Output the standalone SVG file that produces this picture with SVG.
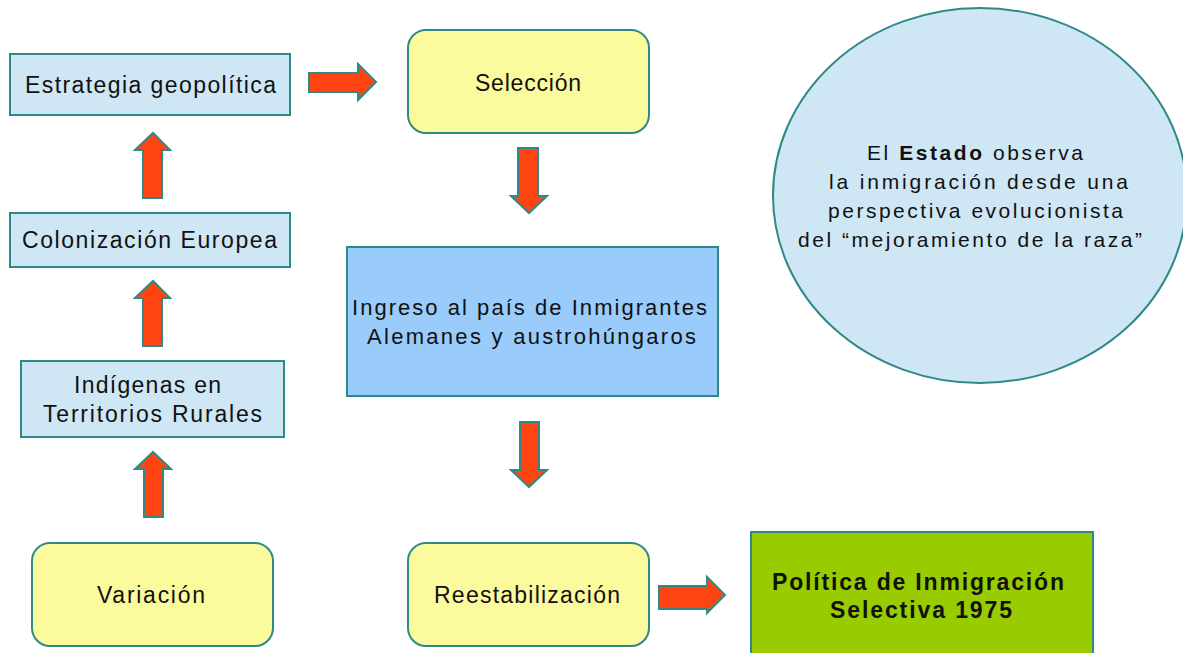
<svg xmlns="http://www.w3.org/2000/svg" width="1183" height="653" viewBox="0 0 1183 653">
<style>
.bg{fill:#ffffff}
.lb{fill:#cfe6f4;stroke:#2e8a86;stroke-width:2}
.yl{fill:#fbfa9c;stroke:#2e8a86;stroke-width:2}
.bl{fill:#99cbfb;stroke:#2e8a86;stroke-width:2}
.gr{fill:#99cc00;stroke:#2e8a86;stroke-width:2}
.ar{fill:#ff4411;stroke:#2e8a86;stroke-width:2;stroke-linejoin:miter}
text{font-family:"Liberation Sans",Arial,sans-serif;fill:#111111}
.t23{font-size:23px}
.t22{font-size:22px}
.t21{font-size:21px}
.b{font-weight:bold}
</style>
<rect class="bg" x="0" y="0" width="1183" height="653"/>

<g id="estado">
<ellipse class="lb" cx="980" cy="195.5" rx="207" ry="187.5"/>
<text class="t21" x="867" y="160" textLength="216" lengthAdjust="spacing">El <tspan class="b">Estado</tspan> observa</text>
<text class="t21" x="829" y="189" textLength="299" lengthAdjust="spacing">la inmigración desde una</text>
<text class="t21" x="828" y="218" textLength="295" lengthAdjust="spacing">perspectiva evolucionista</text>
<text class="t21" x="798" y="247" textLength="344" lengthAdjust="spacing">del “mejoramiento de la raza”</text>
</g>

<g id="estrategia">
<rect class="lb" x="10" y="54" width="280" height="61"/>
<text class="t23" x="25" y="93" textLength="251" lengthAdjust="spacing">Estrategia geopolítica</text>
</g>

<g id="colonizacion">
<rect class="lb" x="10" y="213" width="280" height="54"/>
<text class="t23" x="22" y="248" textLength="255" lengthAdjust="spacing">Colonización Europea</text>
</g>

<g id="indigenas">
<rect class="lb" x="21" y="361" width="263" height="76"/>
<text class="t23" x="74" y="393" textLength="147" lengthAdjust="spacing">Indígenas en</text>
<text class="t23" x="43" y="422" textLength="219" lengthAdjust="spacing">Territorios Rurales</text>
</g>

<g id="variacion">
<rect class="yl" x="32" y="543" width="241" height="103" rx="18"/>
<text class="t23" x="97" y="603" textLength="108" lengthAdjust="spacing">Variación</text>
</g>

<g id="seleccion">
<rect class="yl" x="408" y="30" width="241" height="103" rx="18"/>
<text class="t23" x="475" y="91" textLength="106" lengthAdjust="spacing">Selección</text>
</g>

<g id="ingreso">
<rect class="bl" x="347" y="247" width="371" height="149"/>
<text class="t22" x="352" y="315" textLength="355" lengthAdjust="spacing">Ingreso al país de Inmigrantes</text>
<text class="t22" x="367" y="344" textLength="329" lengthAdjust="spacing">Alemanes y austrohúngaros</text>
</g>

<g id="reestabilizacion">
<rect class="yl" x="408" y="543" width="241" height="103" rx="18"/>
<text class="t23" x="434" y="603" textLength="186" lengthAdjust="spacing">Reestabilización</text>
</g>

<g id="politica">
<rect class="gr" x="751" y="532" width="342" height="130"/>
<text class="t23 b" x="772" y="590" textLength="292" lengthAdjust="spacing">Política de Inmigración</text>
<text class="t23 b" x="830" y="618" textLength="182" lengthAdjust="spacing">Selectiva 1975</text>
</g>

<g id="connectors">
<polygon class="ar" points="143,198 162,198 162,150 170,150 153,133 135,150 143,150"/>
<polygon class="ar" points="143,346 162,346 162,298 170,298 153,281 135,298 143,298"/>
<polygon class="ar" points="144,517 163,517 163,469 171,469 153,452 135,469 144,469"/>
<polygon class="ar" points="309,73 358,73 358,64 376,82 358,100 358,92 309,92"/>
<polygon class="ar" points="518,148 538,148 538,196 547,196 529,213 511,196 518,196"/>
<polygon class="ar" points="520,422 539,422 539,470 547,470 529,487 511,470 520,470"/>
<polygon class="ar" points="659,586 707,586 707,577 725,595 707,613 707,609 659,609"/>
</g>
</svg>
